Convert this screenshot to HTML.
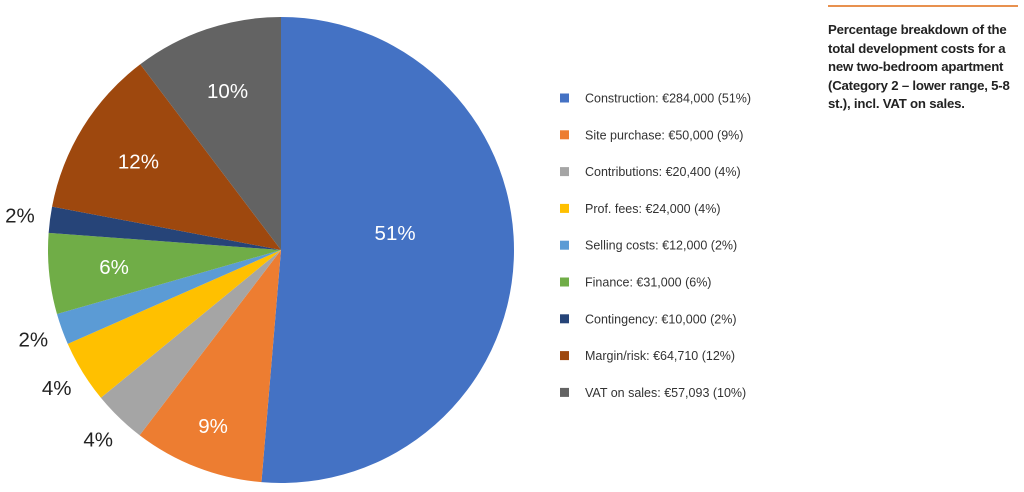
<!DOCTYPE html>
<html><head><meta charset="utf-8"><style>
body{margin:0;width:1024px;height:492px;background:#fff;overflow:hidden;font-family:"Liberation Sans",sans-serif;}
#desc{position:absolute;left:828px;top:21px;width:196px;font-size:13.2px;line-height:18.6px;color:#222;font-weight:bold;letter-spacing:-0.2px}
#rule{position:absolute;left:828px;top:5px;width:190px;height:2px;background:#e8914f}
</style></head><body>
<div id="rule"></div>
<div id="desc">Percentage breakdown of the total development costs for a new two-bedroom apartment (Category 2 – lower range, 5-8 st.), incl. VAT on sales.</div>
<svg id="chart" width="1024" height="492" style="position:absolute;left:0;top:0"></svg>
<script>
const categories=["Construction","Site purchase","Contributions","Prof. fees","Selling costs","Finance","Contingency","Margin/risk","VAT on sales"];
const values=[284000,50000,20400,24000,12000,31000,10000,64710,57093];
const amounts=["€284,000","€50,000","€20,400","€24,000","€12,000","€31,000","€10,000","€64,710","€57,093"];
const pcts=["51%","9%","4%","4%","2%","6%","2%","12%","10%"];
const colors=["#4472c4","#ed7d31","#a5a5a5","#ffc000","#5b9bd5","#70ad47","#264478","#9e480e","#636363"];
const inside=[true,true,false,false,false,true,false,true,true];
const svg=document.getElementById('chart');
const NS='http://www.w3.org/2000/svg';
const cx=281,cy=250,r=233;
const total=values.reduce((a,b)=>a+b,0);
function pt(a,rr){return [cx+rr*Math.sin(a),cy-rr*Math.cos(a)];}
let cum=0;
values.forEach((v,i)=>{
  const a0=cum/total*2*Math.PI;cum+=v;const a1=cum/total*2*Math.PI;
  const p0=pt(a0,r),p1=pt(a1,r);
  const path=document.createElementNS(NS,'path');
  path.setAttribute('d',`M${cx},${cy}L${p0[0]},${p0[1]}A${r},${r} 0 ${a1-a0>Math.PI?1:0} 1 ${p1[0]},${p1[1]}Z`);
  path.setAttribute('fill',colors[i]);
  
  
  svg.appendChild(path);
  const am=(a0+a1)/2;
  const f=inside[i]?(i===0?0.49:(i===1?0.81:0.72)):1.13;
  const lp=pt(am,r*f);
  const t=document.createElementNS(NS,'text');
  t.setAttribute('x',lp[0]);t.setAttribute('y',lp[1]+7-(i===0?22:0));
  t.setAttribute('text-anchor','middle');t.setAttribute('font-size','20.5');
  t.setAttribute('fill',inside[i]?'#fff':'#222');
  t.textContent=pcts[i];
  
  
  svg.appendChild(t);
  const y=98+i*36.8;
  const m=document.createElementNS(NS,'rect');
  m.setAttribute('x',560);m.setAttribute('y',y-4.5);m.setAttribute('width',9);m.setAttribute('height',9);m.setAttribute('fill',colors[i]);
  
  
  svg.appendChild(m);
  const lt=document.createElementNS(NS,'text');
  lt.setAttribute('x',585);lt.setAttribute('y',y+4.5);lt.setAttribute('font-size','12.5');lt.setAttribute('fill','#333');
  lt.textContent=`${categories[i]}: ${amounts[i]} (${pcts[i]})`;
  
  
  svg.appendChild(lt);
});
</script>
</body></html>
